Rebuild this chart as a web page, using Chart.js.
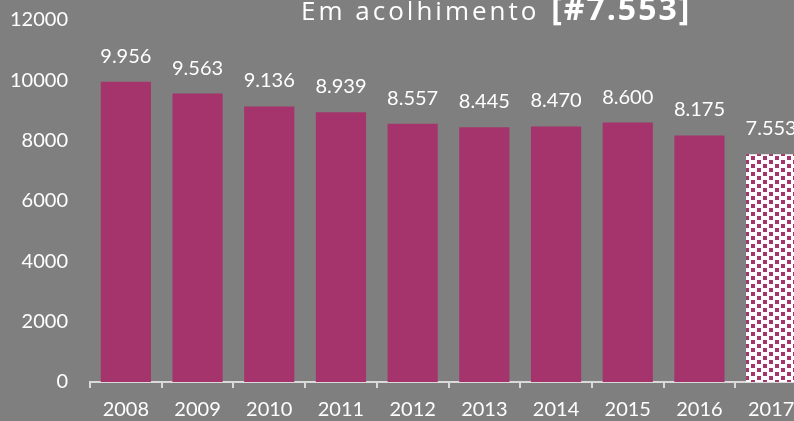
<!DOCTYPE html>
<html>
<head>
<meta charset="utf-8">
<script src="https://cdn.jsdelivr.net/npm/chart.js@4/dist/chart.umd.min.js"></script>
<style>
  html, body { margin: 0; padding: 0; background: #7f7f7f; overflow: hidden; }
  #wrap { width: 827px; height: 421px; }
</style>
</head>
<body>
<div id="wrap"><canvas id="acolhimento"></canvas></div>
<script>
const years = ['2008', '2009', '2010', '2011', '2012', '2013', '2014', '2015', '2016', '2017'];
const totals = [9956, 9563, 9136, 8939, 8557, 8445, 8470, 8600, 8175, 7553];
const yTicks = [0, 2000, 4000, 6000, 8000, 10000, 12000];
const titleText = 'Em acolhimento ';
const titleBold = '[#7.553]';

const BAR = '#a4346b';
const TEXT = '#ffffff';

// formato pt: 9956 -> 9.956
function fmt(v) {
  return String(v).replace(/\B(?=(\d{3})+(?!\d))/g, '.');
}

// padrão de quadradinhos do último ano
function makePattern() {
  const c = document.createElement('canvas');
  c.width = 12; c.height = 8;
  const g = c.getContext('2d');
  g.fillStyle = '#ffffff';
  g.fillRect(0, 0, 12, 8);
  g.fillStyle = BAR;
  g.fillRect(1, 0, 4, 4);
  g.fillRect(7, 4, 4, 4);
  return g.createPattern(c, 'repeat');
}
const pattern = makePattern();

const valueLabels = {
  id: 'valueLabels',
  afterDatasetsDraw(chart) {
    const ctx = chart.ctx;
    const meta = chart.getDatasetMeta(0);
    ctx.save();
    ctx.font = '20px Lato';
    ctx.fillStyle = TEXT;
    ctx.textAlign = 'center';
    ctx.textBaseline = 'alphabetic';
    meta.data.forEach((bar, i) => {
      ctx.fillText(fmt(totals[i]), bar.x, bar.y - 19);
    });
    ctx.restore();
  }
};

const titleDraw = {
  id: 'titleDraw',
  afterDraw(chart) {
    const ctx = chart.ctx;
    ctx.save();
    ctx.fillStyle = TEXT;
    ctx.textBaseline = 'alphabetic';
    ctx.textAlign = 'left';
    ctx.letterSpacing = '3px';
    ctx.font = '26px "Open Sans"';
    let x = 301;
    ctx.fillText(titleText, x, 20);
    x += ctx.measureText(titleText).width + 2;
    ctx.letterSpacing = '2px';
    ctx.font = 'bold 32px "Open Sans"';
    ctx.fillText(titleBold, x, 20);
    ctx.restore();
  }
};

new Chart(document.getElementById('acolhimento'), {
  type: 'bar',
  data: {
    labels: years,
    datasets: [{
      data: totals,
      backgroundColor: totals.map((v, i) => i === totals.length - 1 ? pattern : BAR),
      borderWidth: 0,
      barPercentage: 0.7,
      categoryPercentage: 1
    }]
  },
  options: {
    responsive: true,
    maintainAspectRatio: false,
    animation: false,
    layout: { padding: { top: 20, right: 20, left: 0, bottom: 0 } },
    plugins: {
      legend: { display: false },
      tooltip: { enabled: false },
      title: { display: false }
    },
    scales: {
      x: {
        grid: { display: true, drawOnChartArea: false, offset: true, color: '#d9d9d9', lineWidth: 2, tickLength: 6 },
        border: { color: '#d9d9d9', width: 2 },
        ticks: { color: TEXT, font: { family: 'Lato', size: 20 }, padding: 10, maxRotation: 0, autoSkip: false },
        afterFit(scale) { scale.height = 39; }
      },
      y: {
        min: 0,
        max: 12000,
        afterBuildTicks(scale) { scale.ticks = yTicks.map(v => ({ value: v })); },
        grid: { display: false, drawTicks: false },
        border: { display: false },
        ticks: { color: TEXT, font: { family: 'Lato', size: 20 }, padding: 22, callback: v => String(v) },
        afterFit(scale) {
          scale.width = 90;
          scale.paddingTop = 0;
          scale.paddingBottom = 0;
        }
      }
    }
  },
  plugins: [valueLabels, titleDraw]
});
</script>
</body>
</html>
